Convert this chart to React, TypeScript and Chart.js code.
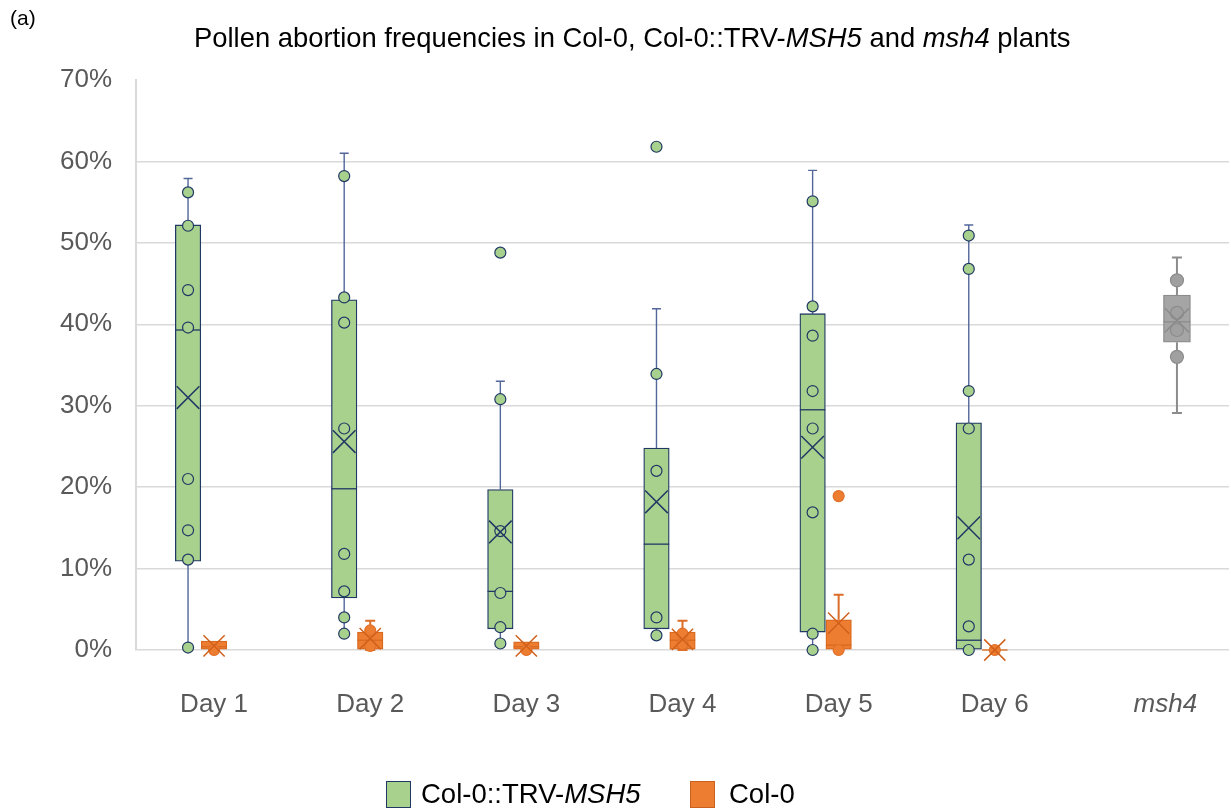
import React, { useEffect, useRef } from 'react';
import { Chart, registerables } from 'chart.js';

Chart.register(...registerables);

const FONT = '"Liberation Sans", Arial, Helvetica, sans-serif';

const categories = ['Day 1', 'Day 2', 'Day 3', 'Day 4', 'Day 5', 'Day 6', 'msh4'];
const yTicks = [0, 10, 20, 30, 40, 50, 60, 70];

// Col-0::TRV-MSH5 (percent)
const msh5Min = [0.3, 2.0, 0.8, 1.8, 0.0, 0.0, null];
const msh5Q1 = [10.9, 6.4, 2.6, 2.6, 2.2, 0.1, null];
const msh5Median = [39.3, 19.8, 7.2, 13.0, 29.5, 1.2, null];
const msh5Q3 = [52.2, 43.0, 19.7, 24.8, 41.3, 27.9, null];
const msh5Max = [57.9, 61.0, 33.0, 41.9, 58.9, 52.2, null];
const msh5Mean = [31.0, 25.6, 14.5, 18.2, 24.9, 15.0, null];
const msh5Points = [
  [56.2, 52.1, 44.2, 39.6, 21.0, 14.7, 11.1, 0.3],
  [58.2, 43.3, 40.2, 27.2, 11.8, 7.2, 4.0, 2.0],
  [48.8, 30.8, 14.6, 7.0, 2.8, 0.8],
  [61.8, 33.9, 22.0, 4.0, 1.8],
  [55.1, 42.2, 38.6, 31.8, 27.2, 16.9, 2.0, 0.0],
  [50.9, 46.8, 31.8, 27.2, 11.1, 2.9, 0.0],
  [],
];

// Col-0 (percent)
const col0Min = [0, 0, 0, 0, 0, 0, null];
const col0Q1 = [0, 0.1, 0, 0.1, 0, 0, null];
const col0Median = [0.4, 1.2, 0.4, 1.2, 0.6, 0, null];
const col0Q3 = [1.1, 2.2, 1.0, 2.2, 3.7, 0, null];
const col0Max = [1.1, 3.6, 1.0, 3.6, 6.8, 0, null];
const col0Mean = [0.5, 1.4, 0.5, 1.3, 3.3, 0, null];
const col0Points = [[0], [2.4, 0.5], [0], [2.0, 0.7], [18.9, 0], [0], []];

// msh4 (percent)
const msh4Min = [null, null, null, null, null, null, 29.1];
const msh4Q1 = [null, null, null, null, null, null, 37.8];
const msh4Median = [null, null, null, null, null, null, 40.3];
const msh4Q3 = [null, null, null, null, null, null, 43.6];
const msh4Max = [null, null, null, null, null, null, 48.2];
const msh4Mean = [null, null, null, null, null, null, 40.5];
const msh4Points = [[], [], [], [], [], [], [45.4, 41.4, 39.3, 36.0]];

type Series = {
  label: string;
  min: (number | null)[];
  q1: (number | null)[];
  median: (number | null)[];
  q3: (number | null)[];
  max: (number | null)[];
  mean: (number | null)[];
  points: number[][];
  offset: number;
  boxWidth: number;
  fill: string;
  stroke: string;
  whisker: string;
  whiskerWidth: number;
  capHalf: number;
  pointFill: string;
  pointStroke: string;
  pointRadius: number;
  meanColor: string;
  meanRadius: number;
};

const series: Series[] = [
  {
    label: 'Col-0::TRV-MSH5', min: msh5Min, q1: msh5Q1, median: msh5Median, q3: msh5Q3, max: msh5Max,
    mean: msh5Mean, points: msh5Points, offset: -1 / 6, boxWidth: 25.5,
    fill: '#a9d18e', stroke: '#203864', whisker: '#53679a', whiskerWidth: 1.4, capHalf: 4.5,
    pointFill: '#a9d18e', pointStroke: '#203864', pointRadius: 5.5, meanColor: '#203864', meanRadius: 16,
  },
  {
    label: 'Col-0', min: col0Min, q1: col0Q1, median: col0Median, q3: col0Q3, max: col0Max,
    mean: col0Mean, points: col0Points, offset: 0, boxWidth: 25.5,
    fill: '#ed7d31', stroke: '#d8691f', whisker: '#dc6e28', whiskerWidth: 2, capHalf: 5,
    pointFill: '#ed7d31', pointStroke: '#e0702a', pointRadius: 5.5, meanColor: '#d0601a', meanRadius: 15,
  },
  {
    label: 'msh4', min: msh4Min, q1: msh4Q1, median: msh4Median, q3: msh4Q3, max: msh4Max,
    mean: msh4Mean, points: msh4Points, offset: 1 / 6, boxWidth: 27,
    fill: '#a5a5a5', stroke: '#8c8c8c', whisker: '#8c8c8c', whiskerWidth: 2, capHalf: 5,
    pointFill: '#a0a0a0', pointStroke: '#8c8c8c', pointRadius: 6.5, meanColor: '#8a8a8a', meanRadius: 17,
  },
];

const boxLines = {
  id: 'boxLines',
  beforeDatasetsDraw(chart: any) {
    const xs = chart.scales.xl;
    const ys = chart.scales.y;
    const ctx = chart.ctx;
    series.forEach((s) => {
      ctx.save();
      ctx.strokeStyle = s.whisker;
      ctx.lineWidth = s.whiskerWidth;
      categories.forEach((_, i) => {
        const q1 = s.q1[i], q3 = s.q3[i], mn = s.min[i], mx = s.max[i];
        if (q1 == null || q3 == null || mn == null || mx == null) return;
        const x = xs.getPixelForValue(i + 0.5 + s.offset);
        if (mx > q3) {
          ctx.beginPath();
          ctx.moveTo(x, ys.getPixelForValue(q3));
          ctx.lineTo(x, ys.getPixelForValue(mx));
          ctx.moveTo(x - s.capHalf, ys.getPixelForValue(mx));
          ctx.lineTo(x + s.capHalf, ys.getPixelForValue(mx));
          ctx.stroke();
        }
        if (mn < q1) {
          ctx.beginPath();
          ctx.moveTo(x, ys.getPixelForValue(q1));
          ctx.lineTo(x, ys.getPixelForValue(mn));
          ctx.moveTo(x - s.capHalf, ys.getPixelForValue(mn));
          ctx.lineTo(x + s.capHalf, ys.getPixelForValue(mn));
          ctx.stroke();
        }
      });
      ctx.restore();
    });
  },
  afterDatasetDraw(chart: any, args: any) {
    const idx = args.index;
    if (idx > 2) return;
    const s = series[idx];
    const xs = chart.scales.xl;
    const ys = chart.scales.y;
    const ctx = chart.ctx;
    ctx.save();
    ctx.strokeStyle = s.stroke;
    ctx.lineWidth = 1.3;
    categories.forEach((_, i) => {
      const m = s.median[i];
      if (m == null) return;
      const x = xs.getPixelForValue(i + 0.5 + s.offset);
      const y = ys.getPixelForValue(m);
      ctx.beginPath();
      ctx.moveTo(x - s.boxWidth / 2, y);
      ctx.lineTo(x + s.boxWidth / 2, y);
      ctx.stroke();
    });
    ctx.restore();
  },
};

export default function App() {
  const ref = useRef<HTMLCanvasElement | null>(null);

  useEffect(() => {
    if (!ref.current) return;
    const barSets = series.map((s) => ({
      type: 'bar' as const,
      label: s.label,
      data: categories
        .map((_, i) =>
          s.q1[i] == null || s.q3[i] == null ? null : { x: i + 0.5 + s.offset, y: [s.q1[i], s.q3[i]] }
        )
        .filter((d) => d !== null),
      backgroundColor: s.fill,
      borderColor: s.stroke,
      borderWidth: 1.3,
      borderSkipped: false,
      grouped: false,
      barThickness: s.boxWidth,
      xAxisID: 'xl',
      yAxisID: 'y',
      order: 3,
    }));
    const pointSets = series.map((s) => ({
      type: 'scatter' as const,
      label: s.label + ' points',
      data: s.points.flatMap((arr, i) => arr.map((v) => ({ x: i + 0.5 + s.offset, y: v }))),
      backgroundColor: s.pointFill,
      borderColor: s.pointStroke,
      borderWidth: 1.2,
      pointRadius: s.pointRadius,
      pointHoverRadius: s.pointRadius,
      showLine: false,
      clip: false,
      xAxisID: 'xl',
      yAxisID: 'y',
      order: 2,
    }));
    const meanSets = series.map((s) => ({
      type: 'scatter' as const,
      label: s.label + ' mean',
      data: s.mean
        .map((v, i) => (v == null ? null : { x: i + 0.5 + s.offset, y: v }))
        .filter((d) => d !== null),
      pointStyle: 'crossRot',
      borderColor: s.meanColor,
      backgroundColor: s.meanColor,
      borderWidth: 1.5,
      pointRadius: s.meanRadius,
      pointHoverRadius: s.meanRadius,
      showLine: false,
      clip: false,
      xAxisID: 'xl',
      yAxisID: 'y',
      order: 1,
    }));

    const zeroPad = (s: any) => {
      s.paddingLeft = 0;
      s.paddingRight = 0;
    };

    const chart = new Chart(ref.current, {
      type: 'bar',
      data: {
        labels: categories,
        datasets: [...barSets, ...pointSets, ...meanSets] as any,
      },
      options: {
        responsive: false,
        animation: false,
        devicePixelRatio: 1,
        layout: { autoPadding: false, padding: { top: 80, right: 2, left: 0, bottom: 0 } },
        plugins: {
          legend: { display: false },
          tooltip: { enabled: false },
          title: { display: false },
        },
        scales: {
          x: {
            type: 'category',
            offset: true,
            grid: { display: false, drawTicks: false },
            border: { display: false },
            ticks: {
              color: '#595959',
              padding: 39,
              font: (c: any) => ({ family: FONT, size: 26, style: c.index === 6 ? 'italic' : 'normal' }),
              callback: (_v: any, i: number) => (i === 6 ? '    ' + categories[i] : categories[i]),
            },
            afterFit: (s: any) => {
              s.height = 159;
              zeroPad(s);
            },
          },
          xl: {
            type: 'linear',
            display: false,
            min: 0,
            max: categories.length,
            offset: false,
            stacked: false,
            ticks: { display: false },
            grid: { display: false },
            afterFit: (s: any) => {
              s.height = 0;
              zeroPad(s);
            },
          },
          y: {
            type: 'linear',
            min: 0,
            max: 70,
            stacked: false,
            afterBuildTicks: (s: any) => {
              s.ticks = yTicks.map((v) => ({ value: v }));
            },
            ticks: {
              color: '#595959',
              padding: 24,
              font: { family: FONT, size: 26 },
              callback: (v: any) => v + '%',
            },
            grid: {
              color: (c: any) => (c.tick && c.tick.value === 70 ? 'rgba(0,0,0,0)' : '#d9d9d9'),
              lineWidth: 1.5,
              drawTicks: false,
            },
            border: { display: true, color: '#d9d9d9', width: 2 },
            afterFit: (s: any) => {
              s.width = 136;
            },
          },
        },
      } as any,
      plugins: [boxLines],
    });
    return () => chart.destroy();
  }, []);

  const legendText: React.CSSProperties = {
    fontFamily: FONT,
    fontSize: 27.5,
    color: '#000',
    whiteSpace: 'nowrap',
    lineHeight: '30px',
  };

  return (
    <div
      style={{
        position: 'fixed',
        left: 0,
        top: 0,
        width: 1231,
        height: 809,
        background: '#fff',
        overflow: 'hidden',
      }}
    >
      <canvas
        ref={ref}
        width={1231}
        height={809}
        style={{ position: 'absolute', left: 0, top: 0, width: 1231, height: 809 }}
      />
      <div
        style={{
          position: 'absolute',
          left: 10,
          top: 6,
          fontFamily: FONT,
          fontSize: 21,
          color: '#000',
          lineHeight: '24px',
        }}
      >
        (a)
      </div>
      <div
        style={{
          position: 'absolute',
          left: 194,
          top: 22,
          fontFamily: FONT,
          fontSize: 27.4,
          color: '#000',
          whiteSpace: 'nowrap',
          lineHeight: '32px',
        }}
      >
        Pollen abortion frequencies in Col-0, Col-0::TRV-<i>MSH5</i> and <i>msh4</i> plants
      </div>
      <div style={{ position: 'absolute', left: 386, top: 779, display: 'flex', alignItems: 'center' }}>
        <div
          style={{
            width: 23,
            height: 25,
            background: '#a9d18e',
            border: '1.5px solid #203864',
            marginRight: 10,
          }}
        />
        <span style={legendText}>
          Col-0::TRV-<i>MSH5</i>
        </span>
      </div>
      <div style={{ position: 'absolute', left: 690, top: 779, display: 'flex', alignItems: 'center' }}>
        <div
          style={{
            width: 23,
            height: 25,
            background: '#ed7d31',
            border: '1.5px solid #c9621f',
            marginRight: 14,
          }}
        />
        <span style={legendText}>Col-0</span>
      </div>
    </div>
  );
}
